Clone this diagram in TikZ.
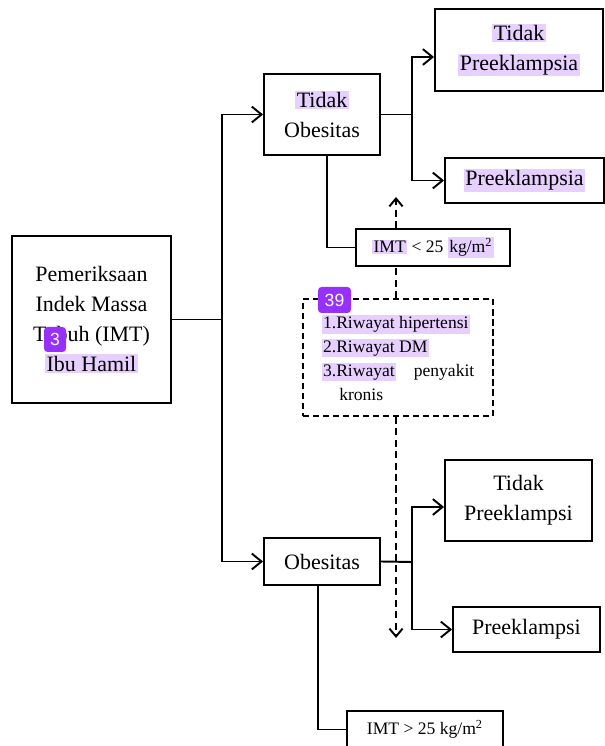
\documentclass[tikz,border=0pt]{standalone}
\usepackage{fontspec}
\setmainfont{Liberation Serif}
\newfontfamily\badgefont{Liberation Sans}
\usetikzlibrary{arrows.meta,positioning}

\definecolor{hlpurple}{RGB}{231,208,255}
\definecolor{badgepurple}{RGB}{151,48,250}
\newcommand{\hl}[1]{{\setlength{\fboxsep}{0.8pt}\colorbox{hlpurple}{#1}}}

\tikzset{
    box/.style={draw, line width=1.1pt, fill=white, align=center, inner sep=2pt,
        font=\fontsize{12.5}{17}\selectfont},
    smallbox/.style={box, font=\fontsize{10}{13.6}\selectfont},
    riskbox/.style={draw, line width=1.1pt, dash pattern=on 3.5pt off 2.2pt, align=left,
        font=\fontsize{10}{13.6}\selectfont},
    conn/.style={line width=1.1pt},
    arr/.style={conn, -{Straight Barb[length=5.5pt,width=9pt,line width=1.1pt]}},
    dasharr/.style={conn, dash pattern=on 4pt off 2.5pt, -{Straight Barb[length=4.5pt,width=7.5pt,line width=1.1pt,sep=0pt]}},
    badge/.style={fill=badgepurple, rounded corners=2pt, text=white, inner sep=0pt,
        font=\badgefont\fontsize{10}{10}\selectfont}
}

\begin{document}
\begin{tikzpicture}
    \clip (0,0) rectangle (12.1,14.92);
    \useasboundingbox (0,0) rectangle (12.1,14.92);

    % boxes
    \node [box, minimum width=3.18cm, minimum height=3.34cm] (pem) at (1.83,8.53)
        {Pemeriksaan\\ Indek Massa\\ Tubuh (IMT)\\ \hl{Ibu Hamil}};
    \node [box, minimum width=2.32cm, minimum height=1.62cm] (tob) at (6.44,12.63)
        {\hl{Tidak}\\ Obesitas};
    \node [box, minimum width=2.32cm, minimum height=0.94cm] (ob) at (6.44,3.69) {Obesitas};
    \node [box, minimum width=3.36cm, minimum height=1.64cm] (tpa) at (10.38,13.92)
        {\hl{Tidak}\\ \hl{Preeklampsia}};
    \node [box, minimum width=3.18cm, minimum height=0.9cm] (pa) at (10.49,11.31)
        {\hl{Preeklampsia}};
    \node [box, minimum width=2.94cm, minimum height=1.62cm] (tpi) at (10.37,4.91)
        {Tidak\\ Preeklampsi};
    \node [box, minimum width=2.94cm, minimum height=0.9cm] (pi) at (10.53,2.33) {Preeklampsi};
    \node [smallbox, minimum width=3.08cm, minimum height=0.74cm] (imtlo) at (8.66,9.97)
        {\hl{IMT} < 25 \hl{kg/m\textsuperscript{2}}};
    \node [smallbox, minimum width=3.12cm, minimum height=0.74cm] (imthi) at (8.5,0.33)
        {IMT > 25 kg/m\textsuperscript{2}};
    \node [riskbox, minimum width=3.8cm, minimum height=2.34cm] (risk) at (7.96,7.77)
        {\hl{1.Riwayat hipertensi}\\ \hl{2.Riwayat DM}\\
         \hl{3.Riwayat}\hspace{0.75em} penyakit\\ \hspace*{1em}kronis};

    % branching points
    \coordinate (split1) at (4.44,8.53);
    \coordinate (split2) at (8.24,12.63);
    \coordinate (split3) at (8.24,3.68);
    \coordinate (up) at (7.92,10.98);
    \coordinate (down) at (7.92,2.16);

    \draw [conn] (pem.east) -- (split1);
    \draw [arr] (split1) |- (tob.west);
    \draw [arr] (split1) |- (ob.west);

    \draw [conn] (tob.east) -- (split2);
    \draw [arr] (split2) |- ([yshift=-0.14cm]tpa.west);
    \draw [arr] (split2) |- (pa.west);

    \draw [conn] (ob.east) -- (split3);
    \draw [arr] (split3) |- ([yshift=-0.13cm]tpi.west);
    \draw [arr] (split3) |- (pi.west);

    \draw [conn] ([xshift=0.1cm]tob.south) |- (imtlo.west);
    \draw [conn] ([xshift=-0.08cm]ob.south) |- (imthi.west);

    % dashed links of the risk factors
    \draw [conn, dash pattern=on 4pt off 2.5pt] (risk.north -| up) -- (imtlo.south -| up);
    \draw [dasharr] (imtlo.north -| up) -- (up);
    \draw [dasharr] (risk.south -| down) -- (down);

    % marks
    \node [badge, minimum width=0.44cm, minimum height=0.5cm] (mark3) at (1.1,8.13) {3};
    \node [badge, minimum width=0.66cm, minimum height=0.52cm] (mark39) at (6.69,8.92) {39};
\end{tikzpicture}
\end{document}
